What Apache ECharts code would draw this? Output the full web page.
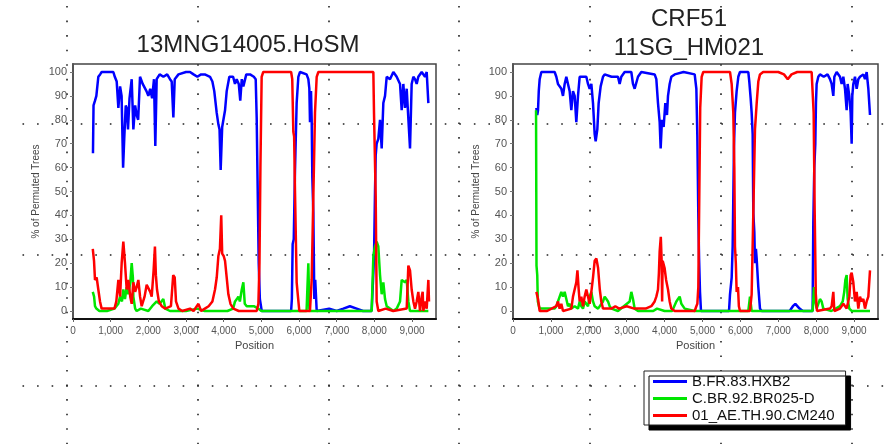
<!DOCTYPE html>
<html>
<head>
<meta charset="utf-8">
<script src="https://cdn.jsdelivr.net/npm/echarts@6.0.0/dist/echarts.min.js"></script>
<style>
  html, body { margin: 0; padding: 0; background: #fff; }
  #chart { width: 890px; height: 444px; }
</style>
</head>
<body>
<div id="chart"></div>
<script>
  'use strict'

  /*----- data -----*/
  var refNames = ['B.FR.83.HXB2', 'C.BR.92.BR025-D', '01_AE.TH.90.CM240'];
  var refColors = ['#0000ff', '#00e600', '#ff0000'];
  var xTicks = [0, 1000, 2000, 3000, 4000, 5000, 6000, 7000, 8000, 9000];
  var yTicks = [0, 10, 20, 30, 40, 50, 60, 70, 80, 90, 100];

  // 13MNG14005.HoSM  [position, % of permuted trees]
  var leftB = [[530,66],[545,86],[584,88],[620,90],[672,98],[720,99],[761,100],[900,100],[1071,100],[1110,98],[1160,96],[1204,85],[1250,94],[1290,90],[1330,60],[1360,72],[1400,86],[1425,85],[1460,76],[1500,89],[1558,97],[1602,76],[1650,86],[1690,82],[1730,80],[1779,98],[1850,95],[1950,92],[2000,90],[2050,93],[2100,89],[2150,97],[2185,69],[2221,97],[2300,99],[2400,98],[2500,99],[2575,97],[2620,96],[2664,81],[2700,97],[2800,99],[3000,100],[3106,100],[3200,99],[3300,98],[3400,99],[3500,99],[3637,98],[3700,96],[3750,92],[3814,83],[3860,78],[3890,76],[3920,59],[3960,77],[4036,84],[4080,92],[4150,98],[4250,98],[4300,95],[4345,97],[4400,95],[4440,88],[4480,97],[4522,94],[4600,99],[4700,99],[4800,98],[4850,97],[4876,81],[4930,20],[4960,5],[5010,0],[5790,0],[5810,5],[5831,28],[5860,30],[5893,59],[5937,87],[5982,98],[6026,100],[6200,99],[6247,97],[6274,93],[6291,79],[6318,92],[6336,80],[6353,56],[6380,41],[6395,20],[6406,5],[6430,13],[6469,0],[6800,1],[7000,0],[7176,1],[7350,2],[7530,1],[7700,0],[7928,0],[7990,22],[8017,50],[8035,65],[8061,70],[8105,72],[8150,80],[8194,68],[8238,87],[8283,90],[8327,98],[8415,97],[8504,100],[8592,98],[8681,95],[8725,84],[8769,95],[8813,85],[8858,93],[8946,68],[8990,95],[9035,98],[9079,97],[9123,95],[9167,98],[9256,100],[9344,98],[9389,100],[9433,87]];
  var leftG = [[525,8],[560,6],[584,2],[620,1],[700,0],[900,0],[1100,1],[1204,3],[1248,6],[1300,4],[1336,9],[1380,5],[1425,10],[1469,7],[1520,12],[1558,20],[1590,14],[1602,6],[1650,1],[1690,0],[1800,1],[2000,0],[2100,2],[2221,4],[2300,3],[2398,5],[2450,1],[2575,0],[3000,0],[3300,1],[3500,0],[4100,0],[4250,1],[4301,4],[4350,5],[4389,6],[4430,4],[4480,9],[4522,12],[4560,3],[4611,2],[4800,2],[4921,1],[5000,0],[6200,0],[6247,20],[6274,1],[6291,0],[7928,0],[7973,23],[8017,27],[8061,29],[8105,27],[8150,15],[8194,7],[8238,12],[8283,5],[8327,2],[8415,1],[8504,0],[8592,1],[8681,4],[8725,13],[8769,13],[8813,12],[8858,13],[8902,4],[8946,0],[9433,0]];
  var leftR = [[525,26],[558,21],[584,13],[628,14],[672,9],[717,4],[760,1],[900,1],[1100,1],[1150,4],[1204,13],[1250,6],[1292,20],[1336,29],[1380,20],[1425,9],[1469,13],[1520,6],[1558,3],[1602,12],[1650,8],[1690,10],[1735,13],[1780,6],[1823,2],[1900,6],[1956,11],[2000,11],[2050,8],[2089,6],[2140,17],[2175,27],[2200,15],[2230,9],[2280,4],[2354,2],[2450,1],[2600,2],[2660,15],[2700,14],[2734,4],[2800,1],[2900,0],[3106,1],[3200,0],[3330,3],[3400,0],[3500,1],[3600,2],[3700,4],[3770,9],[3815,14],[3859,23],[3900,26],[3935,40],[3960,24],[4000,23],[4036,21],[4080,14],[4124,7],[4180,3],[4257,1],[4400,0],[4876,0],[4921,3],[4950,20],[4975,60],[5008,98],[5050,100],[5790,100],[5820,97],[5849,75],[5870,73],[5893,50],[5937,12],[5960,8],[6008,0],[6290,0],[6336,13],[6380,48],[6424,83],[6469,98],[6513,100],[7973,100],[7990,83],[8035,48],[8061,4],[8105,0],[8300,1],[8500,0],[8858,1],[8902,19],[8946,17],[8990,9],[9035,4],[9079,1],[9123,4],[9167,8],[9211,0],[9256,6],[9282,8],[9300,0],[9344,4],[9389,1],[9433,13],[9450,4]];

  // CRF51 11SG_HM021
  var rightB = [[616,85],[640,82],[660,84],[680,92],[704,97],[748,100],[900,100],[1099,100],[1143,98],[1187,95],[1230,94],[1275,93],[1319,90],[1363,95],[1407,98],[1451,95],[1495,92],[1539,84],[1583,92],[1627,90],[1671,79],[1715,90],[1759,98],[1803,98],[1935,98],[1979,95],[2023,93],[2067,95],[2111,87],[2155,74],[2181,71],[2225,76],[2260,87],[2313,94],[2375,98],[2419,99],[2600,98],[2770,98],[2814,95],[2858,98],[2946,100],[3122,100],[3166,95],[3210,93],[3298,98],[3386,100],[3738,99],[3782,97],[3826,87],[3870,79],[3896,68],[3931,80],[3975,77],[4019,87],[4063,82],[4090,90],[4134,95],[4178,98],[4266,99],[4500,100],[4794,99],[4838,93],[4864,73],[4890,40],[4910,22],[4934,8],[4960,0],[5700,0],[5726,7],[5770,14],[5796,27],[5831,69],[5857,83],[5901,92],[5945,98],[5989,100],[6209,100],[6235,96],[6271,89],[6297,83],[6324,74],[6341,41],[6368,33],[6385,20],[6410,26],[6429,22],[6473,10],[6517,1],[6561,0],[7300,0],[7385,2],[7450,3],[7500,3],[7561,1],[7650,0],[7906,0],[7924,37],[7950,60],[7977,70],[7994,87],[8012,95],[8056,98],[8100,99],[8200,98],[8300,99],[8364,97],[8408,95],[8452,90],[8479,98],[8540,100],[8628,98],[8672,95],[8716,98],[8760,93],[8804,84],[8830,95],[8874,90],[8909,83],[8936,70],[8953,90],[8980,95],[9024,98],[9068,93],[9112,97],[9156,98],[9244,99],[9288,97],[9332,100],[9376,93],[9420,82]];
  var rightG = [[608,84],[620,19],[640,15],[655,4],[700,1],[900,1],[1100,1],[1143,2],[1187,4],[1231,6],[1275,8],[1319,6],[1363,8],[1407,5],[1451,2],[1495,3],[1539,1],[1627,2],[1715,1],[1759,4],[1803,2],[1847,1],[1891,4],[1979,2],[2023,6],[2067,8],[2111,4],[2155,2],[2245,1],[2375,4],[2419,6],[2463,5],[2507,4],[2550,2],[2600,1],[2770,0],[3078,4],[3122,8],[3166,5],[3210,1],[3300,0],[3700,0],[3800,1],[4000,0],[4200,0],[4310,4],[4354,5],[4398,6],[4442,3],[4530,1],[4794,0],[6209,0],[6253,6],[6297,0],[7906,0],[7942,10],[7977,4],[8012,1],[8100,5],[8144,4],[8188,1],[8400,0],[8628,2],[8700,4],[8740,8],[8770,13],[8804,15],[8830,5],[8874,1],[8936,0],[9420,0]];
  var rightR = [[616,8],[660,5],[704,0],[900,0],[1143,2],[1187,4],[1231,1],[1275,3],[1319,0],[1540,1],[1583,6],[1671,12],[1700,17],[1733,9],[1759,4],[1803,6],[1847,2],[1891,6],[1935,9],[1979,6],[2023,3],[2067,8],[2111,14],[2155,21],[2200,22],[2245,18],[2290,9],[2330,4],[2375,1],[2600,1],[2700,2],[2800,1],[3000,2],[3200,1],[3500,1],[3650,2],[3738,4],[3782,6],[3826,9],[3850,16],[3870,25],[3900,31],[3920,22],[3935,4],[3950,21],[4000,18],[4040,13],[4090,9],[4134,4],[4178,1],[4266,0],[4794,0],[4838,2],[4864,3],[4890,10],[4910,40],[4940,85],[4978,98],[5020,100],[5726,100],[5770,95],[5813,83],[5840,60],[5857,27],[5880,20],[5901,8],[5937,10],[5960,2],[5989,0],[6253,0],[6297,7],[6341,41],[6385,76],[6430,87],[6473,96],[6517,99],[6600,100],[7000,100],[7150,99],[7250,97],[7350,99],[7500,100],[7880,100],[7933,83],[7960,42],[7990,7],[8021,0],[8364,1],[8408,2],[8452,8],[8479,0],[8628,1],[8716,3],[8804,1],[8874,6],[8909,15],[8936,16],[8980,12],[9024,4],[9068,8],[9112,1],[9156,6],[9200,4],[9244,5],[9288,1],[9332,4],[9376,6],[9420,17]];

  /*----- helpers -----*/
  var font = 'Liberation Sans, Arial, sans-serif';
  var dotLine = { color: '#222', width: 1.6, type: [1.6, 12.96] };

  function hiddenAxis(extra) {
    var a = {
      type: 'value',
      axisLine: { show: false },
      axisTick: { show: false },
      axisLabel: { show: false },
      splitLine: { show: false }
    };
    for (var k in extra) a[k] = extra[k];
    return a;
  }

  function posAxis(gridIndex, maxPos) {
    return {
      type: 'value',
      gridIndex: gridIndex,
      min: 0,
      max: maxPos,
      name: 'Position',
      nameLocation: 'middle',
      nameGap: 21,
      nameTextStyle: { color: '#444', fontSize: 11, fontFamily: font },
      axisLine: { show: true, onZero: false, lineStyle: { color: '#111', width: 2 } },
      axisTick: { show: true, customValues: xTicks, length: 3, lineStyle: { color: '#666' } },
      axisLabel: {
        customValues: xTicks,
        color: '#555',
        fontSize: 10,
        fontFamily: font,
        margin: 7,
        formatter: function (v) { return v.toLocaleString('en-US'); }
      },
      splitLine: { show: false }
    };
  }

  function pctAxis(gridIndex) {
    return {
      type: 'value',
      gridIndex: gridIndex,
      min: -3.35,
      max: 103.35,
      name: '% of Permuted Trees',
      nameLocation: 'middle',
      nameGap: 32,
      nameTextStyle: { color: '#444', fontSize: 10, fontFamily: font },
      axisLine: { show: true, lineStyle: { color: '#555', width: 2 } },
      axisTick: { show: true, customValues: yTicks, length: 3, lineStyle: { color: '#777' } },
      axisLabel: { customValues: yTicks, color: '#555', fontSize: 11, fontFamily: font, margin: 6 },
      splitLine: { show: false }
    };
  }

  function refSeries(idx, data, axisIndex) {
    return {
      name: refNames[idx],
      type: 'line',
      xAxisIndex: axisIndex,
      yAxisIndex: axisIndex,
      data: data,
      showSymbol: false,
      symbol: 'none',
      silent: true,
      lineStyle: { color: refColors[idx], width: 2.5 },
      itemStyle: { color: refColors[idx] },
      z: 3 + idx
    };
  }

  var plotGrid = { top: 64, height: 255, show: true, borderColor: '#444', borderWidth: 1.5, backgroundColor: 'transparent', outerBoundsMode: 'none' };

  var option = {
    animation: false,
    backgroundColor: '#fff',
    title: [
      {
        text: '13MNG14005.HoSM',
        left: 248, top: 33, padding: 0, textAlign: 'center',
        textStyle: { fontFamily: font, fontSize: 24, fontWeight: 'normal', color: '#222', lineHeight: 24 }
      },
      {
        text: 'CRF51\n11SG_HM021',
        left: 689, top: 5, padding: 0, textAlign: 'center',
        textStyle: { fontFamily: font, fontSize: 24, fontWeight: 'normal', color: '#222', lineHeight: 29 }
      }
    ],
    legend: {
      data: refNames,
      orient: 'vertical',
      left: 644,
      top: 371,
      padding: [2, 11, 1, 9],
      itemGap: 0,
      itemWidth: 34,
      itemHeight: 3,
      icon: 'rect',
      selectedMode: false,
      backgroundColor: '#fff',
      borderColor: '#222',
      borderWidth: 1,
      shadowColor: '#000',
      shadowBlur: 0,
      shadowOffsetX: 5,
      shadowOffsetY: 5,
      textStyle: { fontFamily: font, fontSize: 15, color: '#111', lineHeight: 17 }
    },
    grid: [
      // dotted guide verticals
      { left: 66.7, top: 6, width: 785, height: 438, outerBoundsMode: 'none' },
      // dotted guide horizontals
      { left: 22.5, top: 123.3, width: 861, height: 262, outerBoundsMode: 'none' },
      Object.assign({ left: 73, width: 363 }, plotGrid),
      Object.assign({ left: 513, width: 365 }, plotGrid)
    ],
    xAxis: [
      hiddenAxis({ gridIndex: 0, min: 0, max: 6, interval: 1, splitLine: { show: true, lineStyle: dotLine } }),
      hiddenAxis({ gridIndex: 1, min: 0, max: 1 }),
      posAxis(2, 9636),
      posAxis(3, 9631)
    ],
    yAxis: [
      hiddenAxis({ gridIndex: 0, min: 0, max: 1 }),
      hiddenAxis({ gridIndex: 1, min: 0, max: 2, interval: 1, inverse: true, splitLine: { show: true, lineStyle: dotLine } }),
      pctAxis(2),
      pctAxis(3)
    ],
    series: [
      refSeries(0, leftB, 2),
      refSeries(1, leftG, 2),
      refSeries(2, leftR, 2),
      refSeries(0, rightB, 3),
      refSeries(1, rightG, 3),
      refSeries(2, rightR, 3)
    ]
  };

  var chart = echarts.init(document.getElementById('chart'));
  chart.setOption(option);
</script>
</body>
</html>
